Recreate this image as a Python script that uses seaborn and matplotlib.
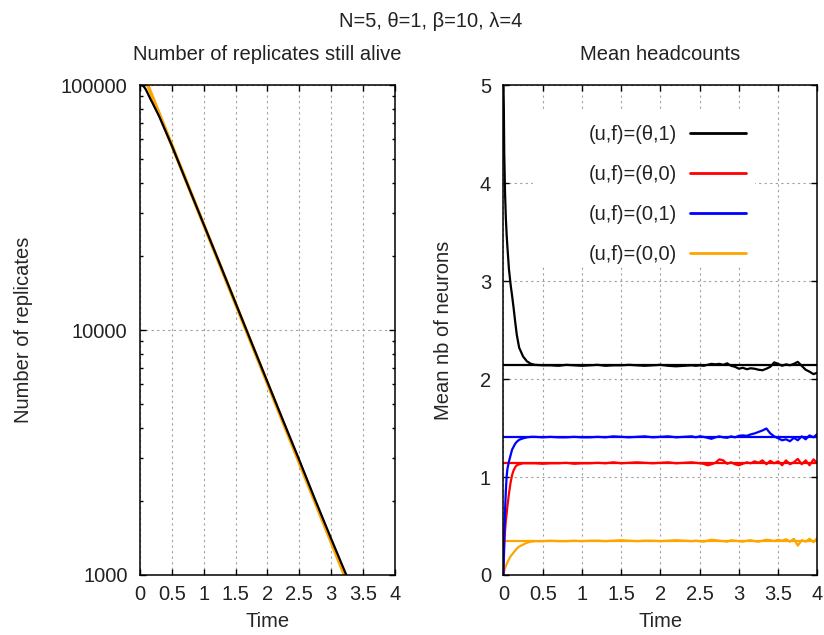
import matplotlib
matplotlib.use("Agg")
from matplotlib import pyplot as plt
import matplotlib.ticker as ticker
from matplotlib.lines import Line2D
from matplotlib.patches import Rectangle
import seaborn as sns

# replicates still alive (log scale)
t_alive = [0, 0.03, 0.06, 0.09, 0.12, 0.16, 0.2, 0.3, 0.5, 0.75, 1.0, 1.25, 1.5,
           1.75, 2.0, 2.25, 2.5, 2.75, 3.0, 3.24]
n_alive = [100000, 99800, 98500, 96000, 92500, 88000, 84000, 74500, 56500, 39000,
           27000, 18700, 12900, 8900, 6150, 4250, 2950, 2030, 1410, 1000]
t_fit = [0.12, 3.21]
n_fit = [100000, 1000]

# mean headcounts
t_head = [0, 0.005, 0.01, 0.02, 0.03, 0.04, 0.05, 0.07, 0.09, 0.11, 0.13, 0.15, 0.17, 0.2, 0.25, 0.3, 0.35,
          0.4, 0.5, 0.6, 0.7, 0.8, 0.9, 1.0, 1.1, 1.2, 1.3, 1.4, 1.5, 1.6, 1.7, 1.8, 1.9, 2.0, 2.1, 2.2, 2.3, 2.4,
          2.45, 2.5, 2.55, 2.6, 2.65, 2.7, 2.75, 2.8, 2.85, 2.9, 2.95, 3.0, 3.05, 3.1, 3.15, 3.2,
          3.25, 3.3, 3.35, 3.4, 3.45, 3.5, 3.55, 3.6, 3.65, 3.7, 3.75, 3.8, 3.85, 3.9, 3.95, 4.0]
head_theta1 = [5.0, 4.75, 4.3, 3.9, 3.65, 3.48, 3.35, 3.12, 2.97, 2.85, 2.72, 2.58, 2.45, 2.32, 2.23, 2.18, 2.155,
               2.145, 2.14, 2.14, 2.135, 2.145, 2.14, 2.135, 2.14, 2.145, 2.135, 2.14, 2.14, 2.145, 2.14, 2.135,
               2.14, 2.145, 2.135, 2.13, 2.135, 2.14,
               2.135, 2.14, 2.135, 2.145, 2.155, 2.15, 2.155, 2.145, 2.16, 2.135, 2.125, 2.105, 2.115, 2.1, 2.11,
               2.105, 2.095, 2.09, 2.105, 2.125, 2.17, 2.155, 2.135, 2.15, 2.14, 2.155, 2.175, 2.135, 2.095,
               2.075, 2.05, 2.065]
head_theta0 = [0, 0.15, 0.3, 0.45, 0.55, 0.62, 0.7, 0.83, 0.94, 1.02, 1.07, 1.1, 1.12, 1.13, 1.14, 1.14, 1.14,
               1.14, 1.135, 1.14, 1.14, 1.145, 1.135, 1.14, 1.14, 1.145, 1.14, 1.15, 1.14, 1.145, 1.15, 1.145,
               1.14, 1.145, 1.15, 1.14, 1.145, 1.15,
               1.145, 1.14, 1.135, 1.12, 1.13, 1.145, 1.18, 1.17, 1.135, 1.15, 1.13, 1.12, 1.135, 1.15, 1.14,
               1.16, 1.145, 1.17, 1.13, 1.165, 1.14, 1.16, 1.12, 1.17, 1.13, 1.15, 1.185, 1.13, 1.17, 1.12,
               1.18, 1.14]
head_01 = [0, 0.2, 0.4, 0.65, 0.85, 1.0, 1.08, 1.16, 1.22, 1.28, 1.31, 1.34, 1.36, 1.38, 1.395, 1.405, 1.41,
           1.41, 1.405, 1.41, 1.405, 1.405, 1.41, 1.405, 1.405, 1.41, 1.405, 1.415, 1.41, 1.405, 1.41, 1.415,
           1.405, 1.41, 1.415, 1.405, 1.41, 1.415,
           1.405, 1.415, 1.41, 1.4, 1.39, 1.405, 1.415, 1.405, 1.4, 1.415, 1.405, 1.42, 1.425, 1.42, 1.435,
           1.445, 1.46, 1.475, 1.495, 1.445, 1.415, 1.395, 1.375, 1.385, 1.365, 1.4, 1.375, 1.415, 1.385,
           1.425, 1.405, 1.44]
head_00 = [0, 0.02, 0.04, 0.07, 0.09, 0.11, 0.13, 0.16, 0.19, 0.21, 0.23, 0.25, 0.27, 0.29, 0.31, 0.33, 0.34,
           0.345, 0.345, 0.35, 0.345, 0.345, 0.35, 0.345, 0.35, 0.35, 0.345, 0.35, 0.355, 0.35, 0.345, 0.35,
           0.35, 0.345, 0.35, 0.355, 0.35, 0.345,
           0.35, 0.345, 0.34, 0.35, 0.36, 0.355, 0.35, 0.345, 0.34, 0.355, 0.35, 0.345, 0.34, 0.35, 0.355,
           0.345, 0.34, 0.35, 0.36, 0.355, 0.345, 0.36, 0.35, 0.365, 0.34, 0.37, 0.3, 0.355, 0.34, 0.37,
           0.335, 0.38]
ref_levels = [2.145, 1.14, 1.41, 0.345]
series_labels = ["(u,f)=(θ,1)", "(u,f)=(θ,0)", "(u,f)=(0,1)", "(u,f)=(0,0)"]
series_colors = ["black", "#ff0000", "#0000ff", "#ffa500"]

fs = 14.5

sns.set_theme(style="ticks")
plt.rcParams['font.family'] = ['Liberation Sans', 'DejaVu Sans']
plt.rcParams['xtick.direction'] = 'in'
plt.rcParams['ytick.direction'] = 'in'
plt.rcParams['axes.edgecolor'] = 'black'
plt.rcParams['axes.linewidth'] = 1.1
plt.rcParams['text.color'] = '#222222'

fig = plt.figure(figsize=(8.24, 6.35), dpi=100)
ax1 = fig.add_axes([0.170, 0.0945, 0.309, 0.7715])
ax2 = fig.add_axes([0.611, 0.0945, 0.381, 0.7715])

grid_kw = dict(color='#a0a0a0', linestyle=(0, (2, 3)), linewidth=0.8)

# left panel
sns.lineplot(x=t_fit, y=n_fit, color=series_colors[3], linewidth=2.5, ax=ax1, estimator=None, sort=False)
sns.lineplot(x=t_alive, y=n_alive, color='black', linewidth=1.6, ax=ax1, estimator=None, sort=False)
ax1.set_yscale('log')
ax1.set_xlim(0, 4)
ax1.set_ylim(1000, 100000)
ax1.yaxis.set_major_locator(ticker.FixedLocator([1000, 10000, 100000]))
ax1.yaxis.set_major_formatter(ticker.FuncFormatter(lambda v, p: f"{v:.0f}"))
ax1.yaxis.set_minor_locator(ticker.LogLocator(base=10, subs=range(2, 10)))
ax1.yaxis.set_minor_formatter(ticker.NullFormatter())
ax1.set_title("Number of replicates still alive", fontsize=fs, pad=18)
ax1.set_ylabel("Number of replicates", fontsize=fs)
ax1.yaxis.set_label_coords(-0.42, 0.5)

# right panel
for lvl, col in zip(ref_levels, series_colors):
    ax2.axhline(lvl, color=col, linewidth=1.6)
for vals, col in zip([head_00, head_theta0, head_01, head_theta1],
                     [series_colors[3], series_colors[1], series_colors[2], series_colors[0]]):
    sns.lineplot(x=t_head, y=vals, color=col, linewidth=1.6, ax=ax2, estimator=None, sort=False)
ax2.set_xlim(0, 4)
ax2.set_ylim(0, 5)
ax2.yaxis.set_major_locator(ticker.MultipleLocator(1))
ax2.set_title("Mean headcounts", fontsize=fs, pad=18)
ax2.set_ylabel("Mean nb of neurons", fontsize=fs)
ax2.yaxis.set_label_coords(-0.16, 0.5)

# key background hides the grid behind it
ax2.add_patch(Rectangle((0.0955, 0.629), 0.707, 0.32, transform=ax2.transAxes,
                        facecolor='white', edgecolor='none', zorder=0.8))
handles = [Line2D([0], [0], color=c, linewidth=2) for c in series_colors]
leg = ax2.legend(handles, series_labels, loc='upper right', bbox_to_anchor=(0.771, 0.919),
                 markerfirst=False, frameon=False, handlelength=2.75, handletextpad=0.65,
                 labelspacing=1.05, fontsize=fs, borderpad=0, borderaxespad=0)

for ax in (ax1, ax2):
    ax.set_xlabel("Time", fontsize=fs, labelpad=6)
    ax.xaxis.set_major_locator(ticker.MultipleLocator(0.5))
    ax.xaxis.set_major_formatter(ticker.FuncFormatter(lambda v, p: f"{v:g}"))
    ax.tick_params(which='both', top=True, right=True, labelsize=fs, colors='black',
                   labelcolor='#222222')
    ax.tick_params(axis='x', pad=7)
    ax.tick_params(axis='y', pad=9)
    ax.tick_params(which='major', length=4.5, width=1)
    ax.tick_params(which='minor', length=2.5, width=1)
    ax.grid(True, which='major', **grid_kw)
    ax.set_axisbelow(True)

fig.text(0.523, 0.958, "N=5, θ=1, β=10, λ=4", fontsize=fs, ha='center', va='baseline')
fig.savefig("out.png", dpi=100)
